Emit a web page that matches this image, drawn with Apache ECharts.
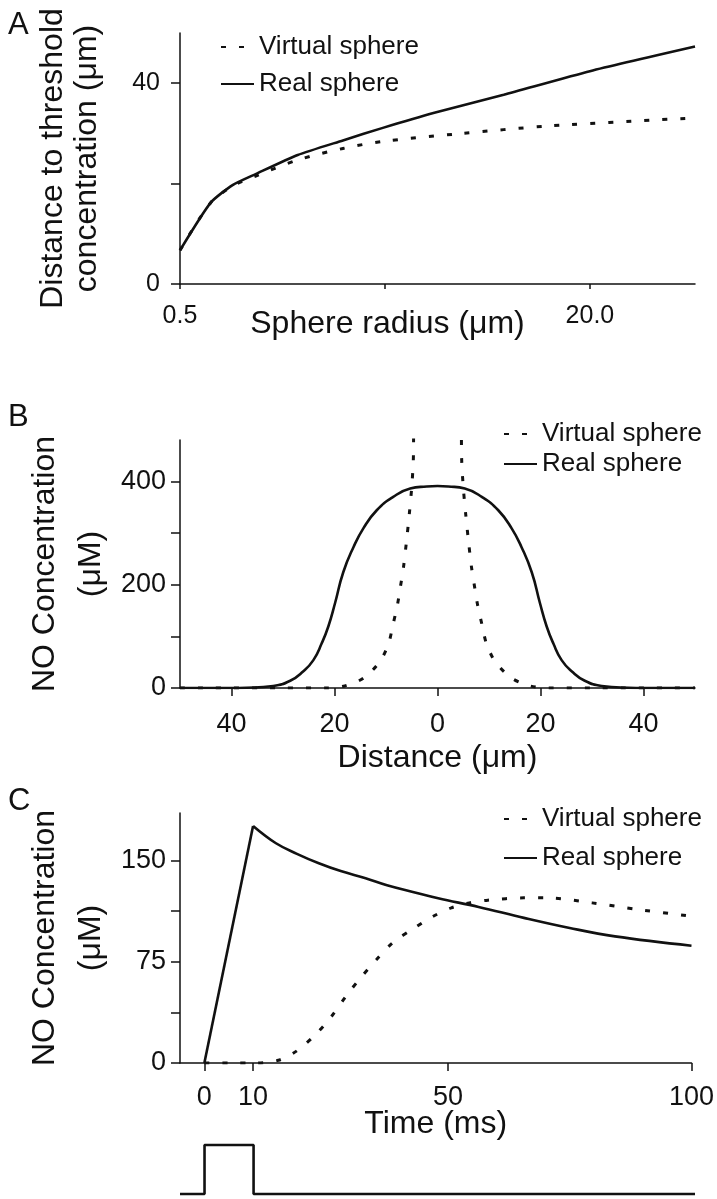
<!DOCTYPE html>
<html>
<head>
<meta charset="utf-8">
<script src="https://cdn.jsdelivr.net/npm/echarts@6/dist/echarts.min.js"></script>
<style>
  html, body { margin: 0; padding: 0; background: #fff; }
  #chart { width: 717px; height: 1199px; }
</style>
</head>
<body>
<div id="chart"></div>
<script>
// panel A: distance to threshold vs sphere radius
const radiusReal = [0.5, 1.96, 3.0, 4.1, 6.1, 8.25, 10.15, 12.6, 15.9, 20.0, 25.0];
const distReal = [6.7, 16.2, 19.7, 21.9, 25.7, 28.6, 31.1, 34.1, 37.7, 42.4, 47.3];
const radiusVirtual = [0.5, 1.96, 3.0, 4.1, 6.1, 8.25, 10.15, 13.7, 18.1, 24.6];
const distVirtual = [6.7, 16.2, 19.5, 21.5, 24.7, 27.0, 28.4, 29.9, 31.5, 33.0];
const radiusTicks = [0.5, 10.25, 20.0];
const radiusLabels = [0.5, 20.0];

// panel B: concentration profile vs distance
const distanceReal = [-50, -40, -37.1, -31.9, -28.6, -26.1, -24.1, -22.5, -21.2, -19.9, -18.3, -16.3, -14.4, -11.8, -8.6, -5.3, -2.1, 0,
  2.1, 5.3, 8.6, 11.8, 14.4, 16.3, 18.3, 19.9, 21.2, 22.5, 24.1, 26.1, 28.6, 31.9, 37.1, 40, 50];
const concReal = [0, 0, 0.5, 4, 14, 32, 54, 86, 119, 164, 224, 273, 309, 344, 370, 386, 390, 391,
  390, 386, 370, 344, 309, 273, 224, 164, 119, 86, 54, 32, 14, 4, 0.5, 0, 0];
const distanceVirtual = [-50, -30, -21.5, -18, -14.4, -11.2, -9.5, -8.7, -7.8, -7.3, -6.6, -6.0, -5.5, -5.0, -4.7, -4.5,
  4.5, 4.7, 5.0, 5.5, 6.0, 6.6, 7.3, 7.8, 8.7, 9.5, 11.2, 14.4, 18, 21.5, 30, 50];
const concVirtual = [0, 0, 0, 4, 19, 51, 86, 120, 160, 190, 234, 286, 334, 389, 440, 520,
  520, 440, 389, 334, 286, 234, 190, 160, 120, 86, 51, 19, 4, 0, 0, 0];
const distanceTicks = [-40, -20, 0, 20, 40];
const concTicksB = [0, 100, 200, 300, 400];
const concLabelsB = [0, 200, 400];

// panel C: concentration vs time (real sphere: linear rise, then decay)
const timeRise = [0, 10];
const concRise = [0, 175.4];
const timeDecay = [10, 14.7, 19, 23.5, 28, 33.1, 37.5, 42.6, 48, 56.3, 65.6, 75, 84.3, 100];
const concDecay = [175.4, 162.6, 154.8, 147.8, 142, 136.7, 131.5, 126.8, 121.9, 115.5, 107.4, 99.9, 93.7, 86.8];
const timeVirtual = [0, 5, 10.5, 15.2, 19, 22.7, 26, 29.2, 32, 35.3, 38.6, 42.8, 47, 50.7, 54.4, 58.2, 65.6, 70.3, 79.6, 89, 100];
const concTimeVirtual = [0, 0, 0, 2, 9, 20.6, 34, 50, 62.7, 76.4, 88.8, 99.2, 108.6, 114.8, 118.5, 120.5, 122.2, 122.2, 118.5, 113.6, 108.6];
const timeTicks = [0, 10, 50, 100];
const concTicksC = [0, 37.5, 75, 112.5, 150];
const concLabelsC = [0, 75, 150];

// stimulus pulse under panel C
const pulseTime = [-5, 0, 0, 10, 10, 100];
const pulseLevel = [0, 0, 1, 1, 0, 0];

const zip = (xs, ys) => xs.map((x, i) => [x, ys[i]]);

const FONT = "'Liberation Sans', Arial, Helvetica, sans-serif";
const INK = '#111';
const NAMES = ['Virtual sphere', 'Real sphere'];
const DOTS = [5, 13];

function valueAxis(idx, opts) {
  return Object.assign({
    type: 'value',
    gridIndex: idx,
    splitLine: {show: false},
    nameMoveOverlap: false,
    axisLine: {show: true, onZero: false, lineStyle: {color: INK, width: 1.5}},
    axisTick: {show: true, inside: false, length: 9, lineStyle: {color: INK, width: 1.5}},
    axisLabel: {color: INK, fontFamily: FONT, fontSize: 25},
    nameTextStyle: {color: INK, fontFamily: FONT, fontSize: 32}
  }, opts);
}

function tick(values, len) {
  return {show: true, length: len, customValues: values, lineStyle: {color: INK, width: 1.5}};
}

function label(values, size, margin, fmt) {
  const l = {color: INK, fontFamily: FONT, fontSize: size, margin: margin, customValues: values};
  if (fmt) l.formatter = fmt;
  return l;
}

function line(name, data, xi, dotted, smooth) {
  return {
    name: name,
    type: 'line',
    xAxisIndex: xi,
    yAxisIndex: xi,
    data: data,
    symbol: 'none',
    smooth: smooth,
    silent: true,
    lineStyle: {color: INK, width: dotted ? 3 : 2.6, type: dotted ? DOTS : 'solid'},
    itemStyle: {color: INK}
  };
}

function legendAt(left, top, gap) {
  return {
    data: NAMES,
    orient: 'vertical',
    left: left,
    top: top,
    padding: 0,
    itemGap: gap,
    itemWidth: 33,
    itemHeight: 14,
    selectedMode: false,
    itemStyle: {opacity: 0},
    textStyle: {color: INK, fontFamily: FONT, fontSize: 26}
  };
}

const letter = (t, top) => ({text: t, left: 3, top: top,
  textStyle: {fontFamily: FONT, fontSize: 31, fontWeight: 'normal', color: INK}});

const chart = echarts.init(document.getElementById('chart'));
chart.setOption({
  animation: false,
  backgroundColor: '#fff',
  title: [letter('A', 5), letter('B', 397), letter('C', 781)],
  legend: [legendAt(220, 34, 11), legendAt(503, 421, 4), legendAt(503, 806, 13)],
  grid: [
    {left: 180, top: 33, width: 515, height: 251},
    {left: 180, top: 440, width: 515, height: 248},
    {left: 180, top: 813, width: 515, height: 250},
    {left: 180, top: 1145, width: 515, height: 49}
  ],
  xAxis: [
    valueAxis(0, {
      min: 0.5, max: 25,
      name: 'Sphere radius (\u03bcm)', nameLocation: 'middle', nameGap: 24,
      nameTextStyle: {color: INK, fontFamily: FONT, fontSize: 32, padding: [0, 100, 0, 0]},
      axisTick: tick(radiusTicks, 5),
      axisLabel: label(radiusLabels, 25, 20, v => v.toFixed(1))
    }),
    valueAxis(1, {
      min: -50, max: 50,
      name: 'Distance (\u03bcm)', nameLocation: 'middle', nameGap: 54,
      axisTick: tick(distanceTicks, 8),
      axisLabel: label(distanceTicks, 27, 23, v => String(Math.abs(v)))
    }),
    valueAxis(2, {
      min: -5, max: 100,
      name: 'Time (ms)', nameLocation: 'middle', nameGap: 45,
      axisTick: tick(timeTicks, 8),
      axisLabel: label(timeTicks, 27, 21)
    }),
    {type: 'value', gridIndex: 3, min: -5, max: 100, show: false}
  ],
  yAxis: [
    valueAxis(0, {
      min: 0, max: 50,
      name: 'Distance to threshold\nconcentration (\u03bcm)', nameLocation: 'middle', nameGap: 76,
      nameTextStyle: {color: INK, fontFamily: FONT, fontSize: 32, lineHeight: 34},
      axisTick: tick([0, 20, 40], 9),
      axisLabel: label([0, 40], 25, 20)
    }),
    valueAxis(1, {
      min: 0, max: 480,
      name: 'NO Concentration\n(\u03bcM)', nameLocation: 'middle', nameGap: 66,
      nameTextStyle: {color: INK, fontFamily: FONT, fontSize: 32, lineHeight: 46},
      axisTick: tick(concTicksB, 9),
      axisLabel: label(concLabelsB, 27, 14)
    }),
    valueAxis(2, {
      min: 0, max: 185,
      name: 'NO Concentration\n(\u03bcM)', nameLocation: 'middle', nameGap: 66,
      nameTextStyle: {color: INK, fontFamily: FONT, fontSize: 32, lineHeight: 46},
      axisTick: tick(concTicksC, 9),
      axisLabel: label(concLabelsC, 27, 14)
    }),
    {type: 'value', gridIndex: 3, min: 0, max: 1, show: false}
  ],
  series: [
    line('Virtual sphere', zip(radiusVirtual, distVirtual), 0, true, 0.3),
    line('Real sphere', zip(radiusReal, distReal), 0, false, 0.2),
    line('Virtual sphere', zip(distanceVirtual, concVirtual), 1, true, 0.3),
    line('Real sphere', zip(distanceReal, concReal), 1, false, 0.5),
    line('Virtual sphere', zip(timeVirtual, concTimeVirtual), 2, true, 0.3),
    line('Real sphere', zip(timeRise, concRise), 2, false, false),
    line('Real sphere', zip(timeDecay, concDecay), 2, false, 0.4),
    Object.assign(line('Stimulus', zip(pulseTime, pulseLevel), 3, false, false), {clip: false})
  ]
});
</script>
</body>
</html>
